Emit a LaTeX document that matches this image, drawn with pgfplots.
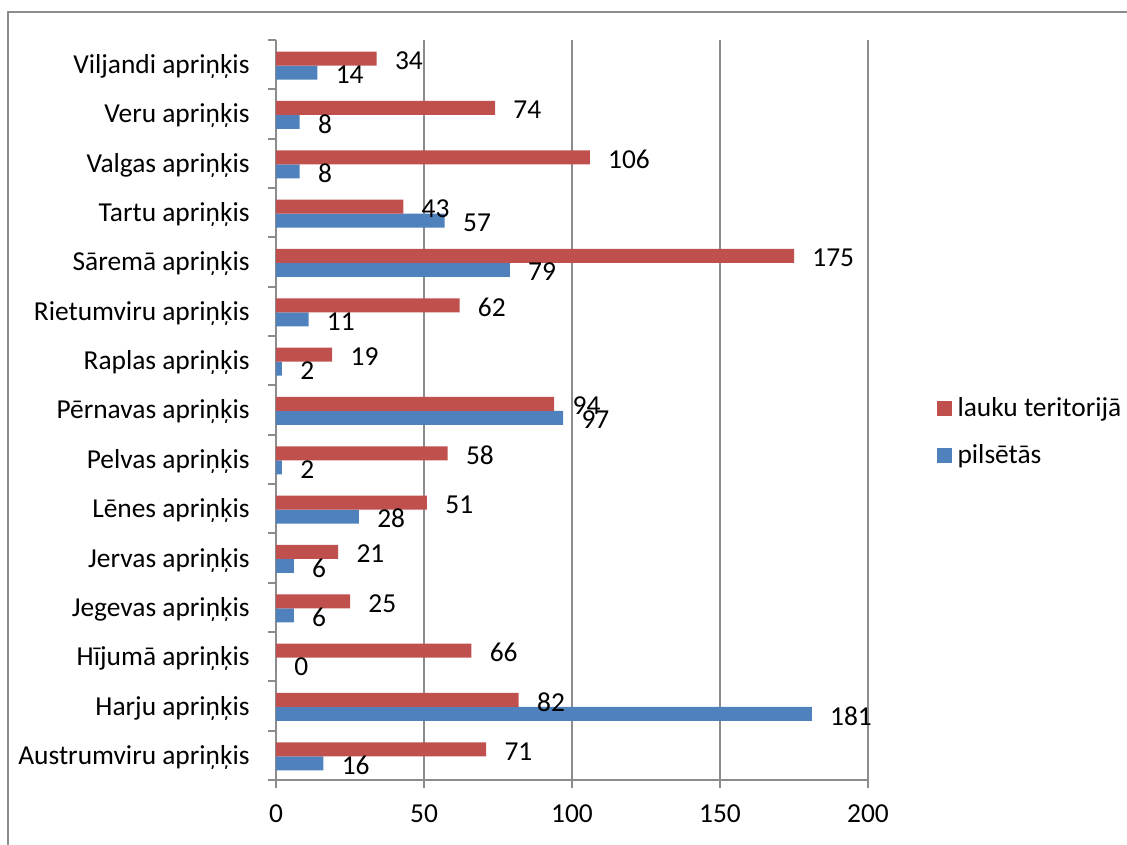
\documentclass[border=0pt]{standalone}
\usepackage{fontspec}
\setmainfont{Carlito}
\usepackage{pgfplots}
\pgfplotsset{compat=1.18}
\definecolor{lauku}{HTML}{C0504D}
\definecolor{pils}{HTML}{4F81BD}
\definecolor{gridc}{HTML}{8C8C8C}

\begin{document}
\begin{tikzpicture}
\begin{axis}[
    scale only axis,
    width=296pt, height=370pt,
    xmin=0, xmax=200,
    ymin=-0.5, ymax=14.5,
    xtick={0,50,...,200},
    ytick={-0.5,0.5,...,14.5},
    yticklabels={},
    extra y ticks={0,...,14},
    extra y tick labels={Austrumviru apriņķis, Harju apriņķis, Hījumā apriņķis,
        Jegevas apriņķis, Jervas apriņķis, Lēnes apriņķis, Pelvas apriņķis,
        Pērnavas apriņķis, Raplas apriņķis, Rietumviru apriņķis, Sāremā apriņķis,
        Tartu apriņķis, Valgas apriņķis, Veru apriņķis, Viljandi apriņķis},
    extra y tick style={major tick length=0pt},
    axis x line=bottom, axis y line=left,
    axis line style={-, gridc, line width=0.9pt},
    tick style={gridc, line width=0.9pt},
    major tick length=4pt,
    tick align=outside,
    xmajorgrids, ymajorgrids=false,
    major x grid style={gridc, line width=0.9pt},
    font=\fontsize{13.7}{16.4}\selectfont,
    ticklabel style={font=\fontsize{13.7}{16.4}\selectfont},
    yticklabel style={inner sep=0pt, xshift=-13pt, yshift=-1pt},
    xticklabel style={inner sep=0pt, yshift=-8pt},
    /pgf/number format/assume math mode=true,
    xbar, bar width=7pt,
    nodes near coords,
    every node near coord/.append style={anchor=west, inner sep=0pt, xshift=9pt, yshift=-1pt,
        font=\fontsize{13.7}{16.4}\selectfont, text=black},
    reverse legend,
    legend style={draw=none, fill=none, at={(axis description cs:1.105,0.47)},
        anchor=west, row sep=12.5pt, column sep=3pt,
        nodes={inner sep=0pt, anchor=west},
        font=\fontsize{13.7}{16.4}\selectfont},
    legend image code/.code={\fill[#1] (0pt,-3.75pt) rectangle (7.5pt,3.75pt);},
]
% pilsetas (lower bar)
\addplot[fill=pils, draw=none, bar shift=-4pt] coordinates {
    (16,0) (181,1) (0,2) (6,3) (6,4) (28,5) (2,6) (97,7) (2,8) (11,9)
    (79,10) (57,11) (8,12) (8,13) (14,14)
};
\addlegendentry{pilsētās}
% lauku teritorija (upper bar)
\addplot[fill=lauku, draw=none, bar shift=3pt] coordinates {
    (71,0) (82,1) (66,2) (25,3) (21,4) (51,5) (58,6) (94,7) (19,8) (62,9)
    (175,10) (43,11) (106,12) (74,13) (34,14)
};
\addlegendentry{lauku teritorijā}
\end{axis}
\pgfresetboundingbox
\useasboundingbox (-138pt,-32pt) rectangle (425.5pt,390pt);
\draw[gridc, line width=0.7pt] (-134pt,-40pt) -- (-134pt,384pt) -- (430pt,384pt);
\end{tikzpicture}
\end{document}
